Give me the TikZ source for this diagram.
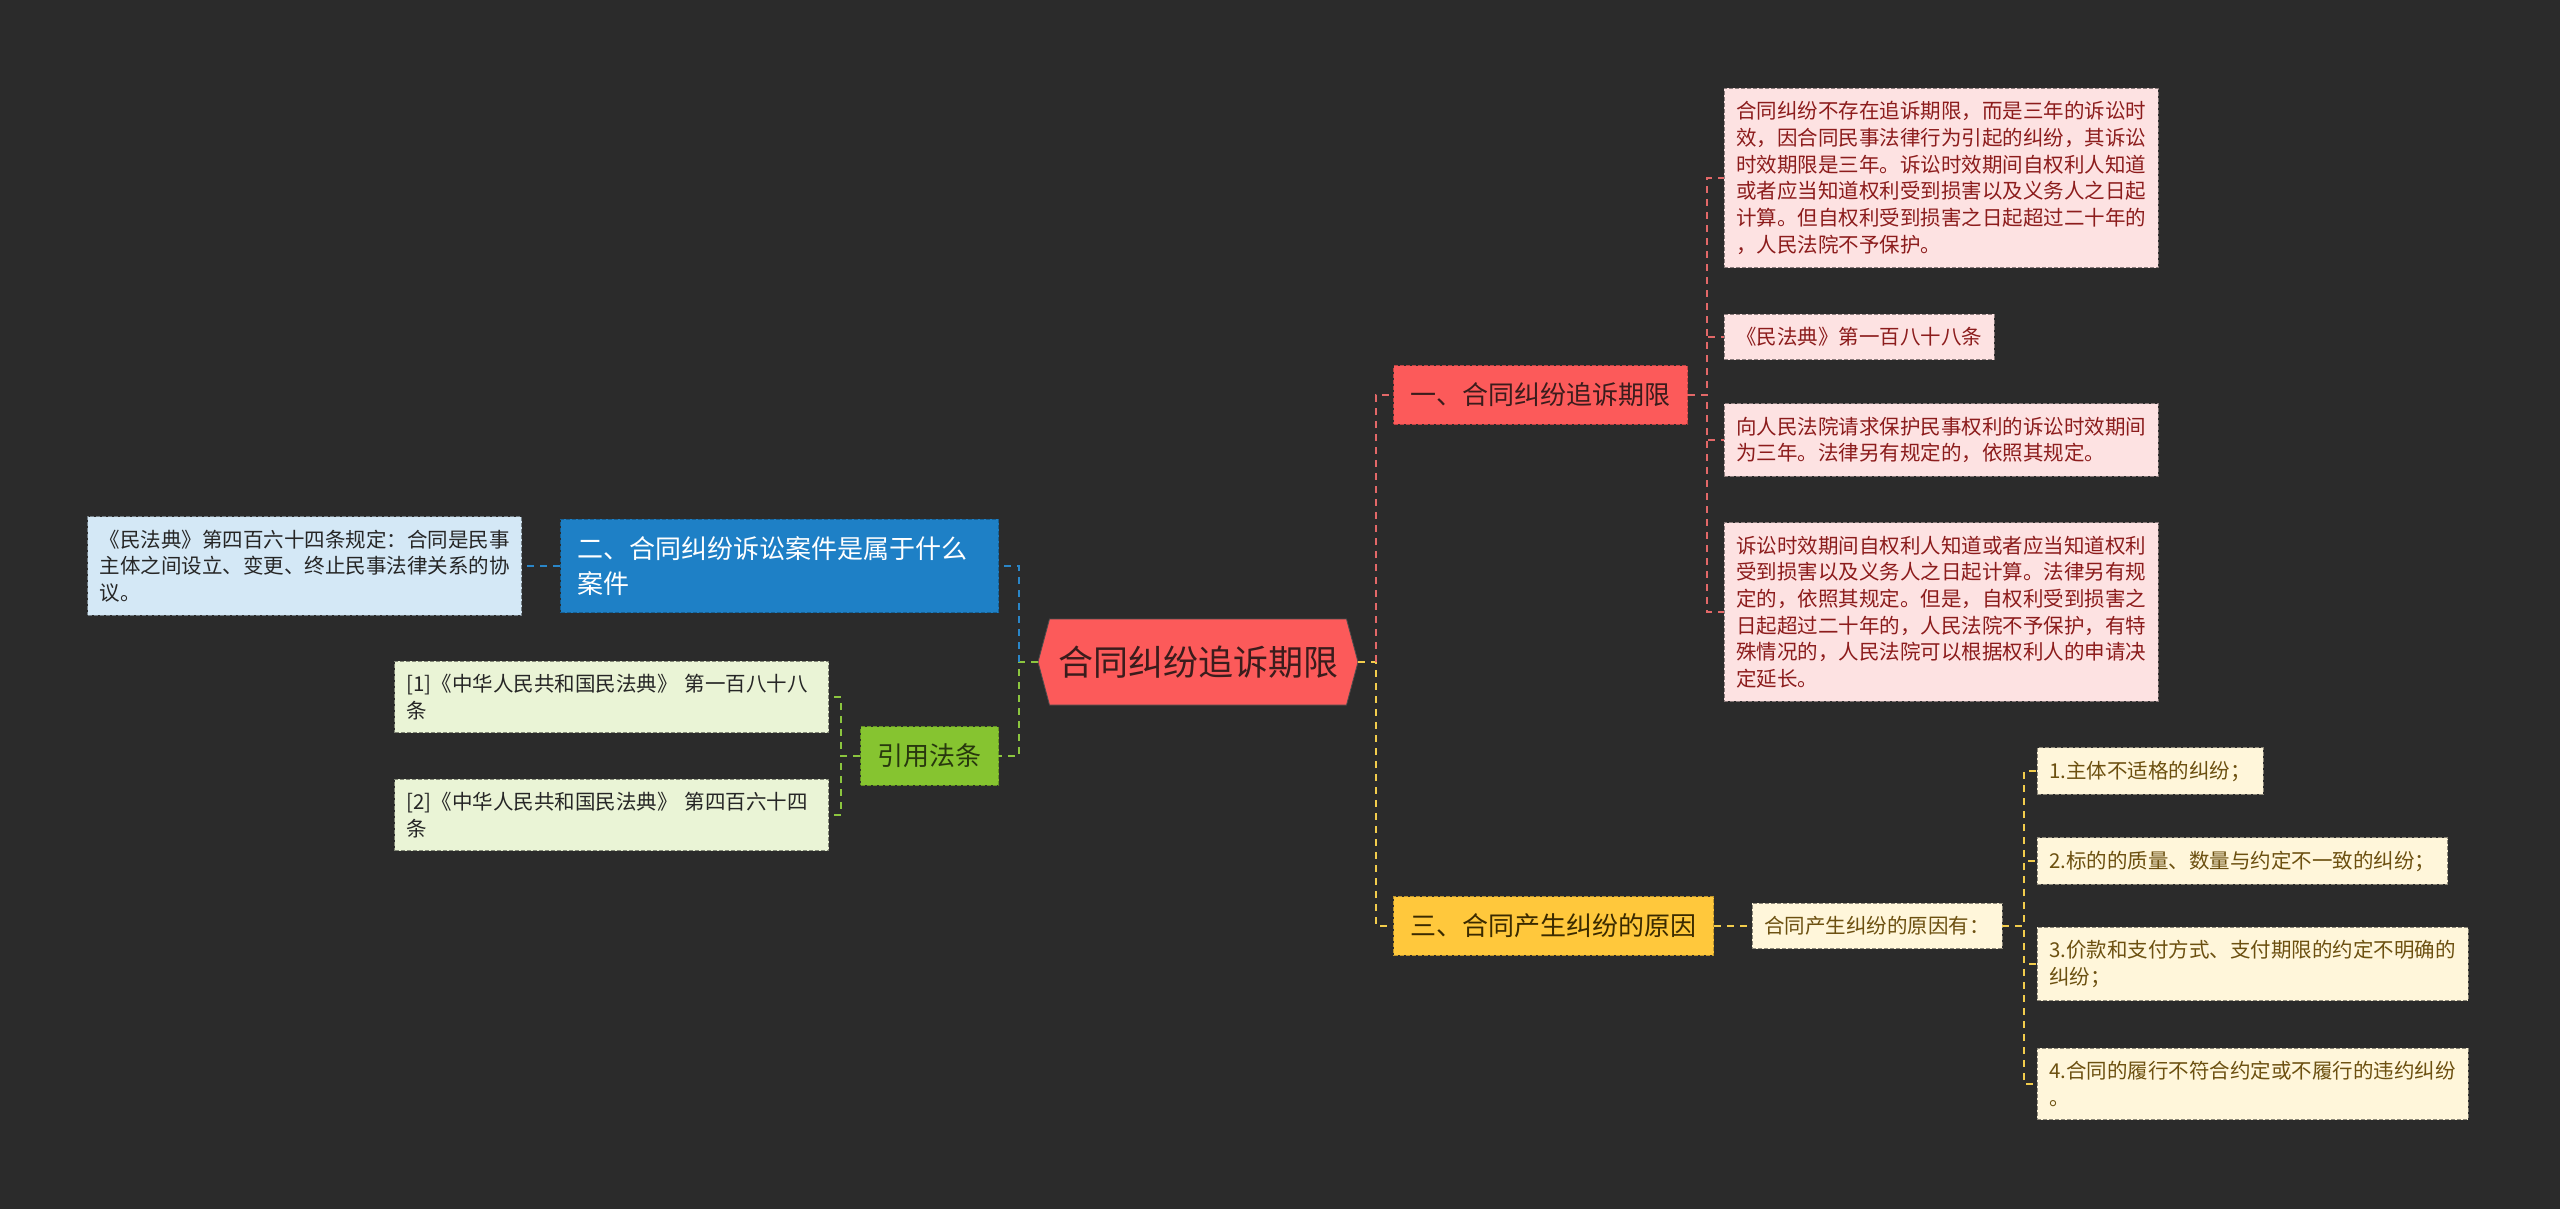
\documentclass[tikz,border=0pt]{standalone}
\usepackage{fontspec}
\setmainfont{Noto Sans CJK SC}
\usetikzlibrary{shapes.symbols}
\definecolor{bgdark}{RGB}{43,43,43}
\definecolor{rootred}{RGB}{252,90,90}
\definecolor{rootink}{RGB}{58,28,28}
\definecolor{pinkfill}{RGB}{253,226,226}
\definecolor{pinkink}{RGB}{140,28,28}
\definecolor{redline}{RGB}{226,104,104}
\definecolor{bluefill}{RGB}{30,128,198}
\definecolor{paleblue}{RGB}{212,232,246}
\definecolor{blueline}{RGB}{42,134,200}
\definecolor{greenfill}{RGB}{134,196,48}
\definecolor{greenink}{RGB}{40,56,14}
\definecolor{palegreen}{RGB}{234,244,214}
\definecolor{greenline}{RGB}{140,198,63}
\definecolor{yellowfill}{RGB}{255,200,60}
\definecolor{yellowink}{RGB}{58,42,0}
\definecolor{cream}{RGB}{255,246,218}
\definecolor{creamink}{RGB}{108,80,16}
\definecolor{yellowline}{RGB}{242,204,76}

\begin{document}
\begin{tikzpicture}[x=.5pt,y=-.5pt,
  rootnode/.style={signal,signal to=west and east,signal pointer angle=150,fill=rootred,
    draw=black!70,line width=.4pt,minimum height=43pt,minimum width=160pt,inner xsep=2pt,
    text=rootink,font=\fontsize{17.5pt}{21pt}\selectfont},
  topicbox/.style={draw=#1!75!black,fill=#1,dash pattern=on 2pt off 1pt,line width=.5pt,
    inner xsep=8.5pt,inner ysep=8.5pt,align=left,font=\fontsize{13pt}{17.5pt}\selectfont},
  leafbox/.style={draw=#1!55!black,fill=#1,dash pattern=on 2pt off 1pt,line width=.4pt,
    inner xsep=6pt,inner ysep=6.5pt,align=left,font=\fontsize{10.25pt}{13.35pt}\selectfont},
  linkline/.style={draw=#1,dash pattern=on 3.5pt off 3pt,line width=1pt}]
\fill[bgdark] (0,0) rectangle (2560,1209);
\useasboundingbox (0,0) rectangle (2560,1209);

\node[rootnode] (root) at (1198,662) {合同纠纷追诉期限};
\coordinate (jr) at (1376,662);
\coordinate (jl) at (1019,662);

\node[topicbox=rootred,text=rootink,anchor=west] (b1) at (1393,395) {一、合同纠纷追诉期限};
\node[topicbox=yellowfill,text=yellowink,anchor=west] (b3) at (1393,926) {三、合同产生纠纷的原因};
\node[topicbox=bluefill,text=white,text width=202pt,anchor=east] (b2) at (999,566) {二、合同纠纷诉讼案件是属于什么\\案件};
\node[topicbox=greenfill,text=greenink,anchor=east] (b4) at (999,756) {引用法条};

\node[leafbox=pinkfill,text=pinkink,anchor=west] (a1) at (1724,178) {合同纠纷不存在追诉期限，而是三年的诉讼时\\效，因合同民事法律行为引起的纠纷，其诉讼\\时效期限是三年。诉讼时效期间自权利人知道\\或者应当知道权利受到损害以及义务人之日起\\计算。但自权利受到损害之日起超过二十年的\\，人民法院不予保护。};
\node[leafbox=pinkfill,text=pinkink,anchor=west] (a2) at (1724,337) {《民法典》第一百八十八条};
\node[leafbox=pinkfill,text=pinkink,anchor=west] (a3) at (1724,440) {向人民法院请求保护民事权利的诉讼时效期间\\为三年。法律另有规定的，依照其规定。};
\node[leafbox=pinkfill,text=pinkink,anchor=west] (a4) at (1724,612) {诉讼时效期间自权利人知道或者应当知道权利\\受到损害以及义务人之日起计算。法律另有规\\定的，依照其规定。但是，自权利受到损害之\\日起超过二十年的，人民法院不予保护，有特\\殊情况的，人民法院可以根据权利人的申请决\\定延长。};

\node[leafbox=paleblue,text=black!85,anchor=east] (l1) at (522,566) {《民法典》第四百六十四条规定：合同是民事\\主体之间设立、变更、终止民事法律关系的协\\议。};
\node[leafbox=palegreen,text=black!85,text width=205pt,anchor=east] (r1) at (829,697) {[1]《中华人民共和国民法典》 第一百八十八\\条};
\node[leafbox=palegreen,text=black!85,text width=205pt,anchor=east] (r2) at (829,815) {[2]《中华人民共和国民法典》 第四百六十四\\条};

\node[leafbox=cream,text=creamink,anchor=west] (c0) at (1752,926) {合同产生纠纷的原因有：};
\node[leafbox=cream,text=creamink,anchor=west] (c1) at (2037,771) {1.主体不适格的纠纷；};
\node[leafbox=cream,text=creamink,anchor=west] (c2) at (2037,861) {2.标的的质量、数量与约定不一致的纠纷；};
\node[leafbox=cream,text=creamink,anchor=west] (c3) at (2037,964) {3.价款和支付方式、支付期限的约定不明确的\\纠纷；};
\node[leafbox=cream,text=creamink,anchor=west] (c4) at (2037,1084) {4.合同的履行不符合约定或不履行的违约纠纷\\。};

\draw[linkline=yellowline] (root.east) -- (jr) |- (b3.west);
\draw[linkline=redline] (jr) |- (b1.west);
\draw[linkline=greenline] (root.west) -- (jl) |- (b4.east);
\draw[linkline=blueline] (jl) |- (b2.east);
\draw[linkline=blueline] (b2.west) -- (l1.east);
\foreach \n in {a1,a2,a3,a4}
  \draw[linkline=redline] (b1.east) -- ++(19,0) |- (\n.west);
\foreach \n in {r1,r2}
  \draw[linkline=greenline] (b4.west) -- ++(-19,0) |- (\n.east);
\draw[linkline=yellowline] (b3.east) -- (c0.west);
\foreach \n in {c1,c2,c3,c4}
  \draw[linkline=yellowline] (c0.east) -- ++(22,0) |- (\n.west);
\end{tikzpicture}
\end{document}
